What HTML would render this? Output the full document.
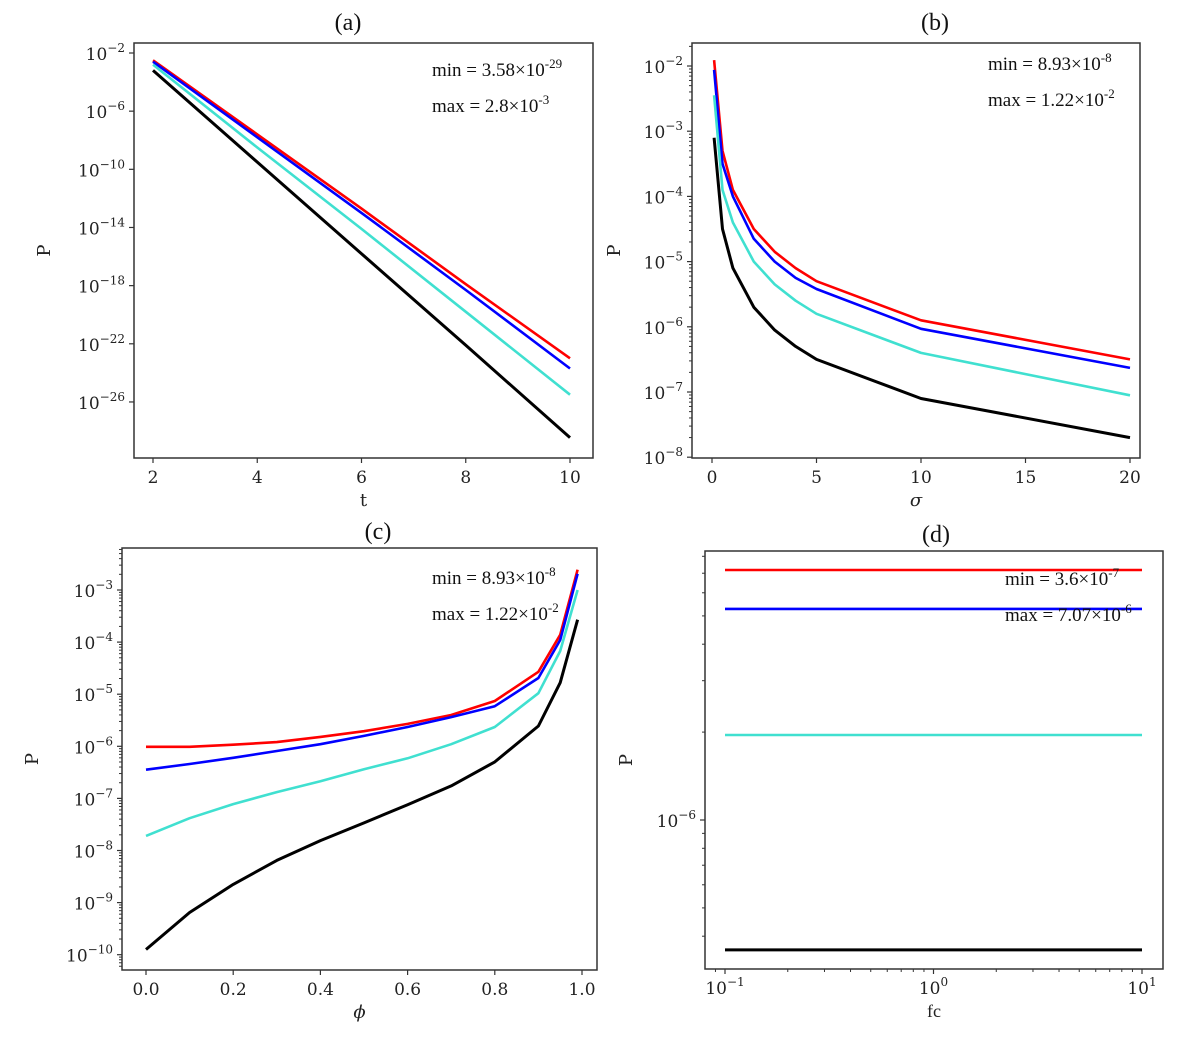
<!DOCTYPE html>
<html><head><meta charset="utf-8"><style>
body{margin:0;background:#fff;}
svg text{font-family:"DejaVu Serif","Liberation Serif",serif;}
.serif{font-family:"Liberation Serif",serif !important;}
</style></head><body>
<svg id="fig" width="1200" height="1046" viewBox="0 0 1200 1046" xmlns="http://www.w3.org/2000/svg"></svg>
<script>
// ---- Panel (a) data: log10(P) vs t ----
const aT = [2,4,6,8,10];
const aRed = [-2.5,-7.6,-12.7,-17.9,-23.0];
const aBlue = [-2.6,-7.8,-13.0,-18.3,-23.7];
const aCyan = [-2.8,-8.5,-14.1,-19.8,-25.5];
const aBlack = [-3.2,-9.5,-15.8,-22.1,-28.45];
const aXTicks = [2,4,6,8,10];
const aYTicks = [-2,-6,-10,-14,-18,-22,-26];
// ---- Panel (b) data: log10(P) vs sigma ----
const bS = [0.1,0.5,1,2,3,4,5,10,20];
const bRed = [-1.91,-3.3,-3.9,-4.5,-4.85,-5.1,-5.3,-5.9,-6.5];
const bBlue = [-2.06,-3.5,-4.0,-4.65,-5.0,-5.25,-5.42,-6.03,-6.63];
const bCyan = [-2.45,-3.9,-4.4,-5.0,-5.35,-5.6,-5.8,-6.4,-7.05];
const bBlack = [-3.1,-4.5,-5.1,-5.7,-6.05,-6.3,-6.5,-7.1,-7.7];
const bXTicks = [0,5,10,15,20];
const bYTicks = [-2,-3,-4,-5,-6,-7,-8];
// ---- Panel (c) data: log10(P) vs phi ----
const cPhi = [0,0.1,0.2,0.3,0.4,0.5,0.6,0.7,0.8,0.9,0.95,0.99];
const cRed = [-6.01,-6.01,-5.97,-5.92,-5.82,-5.71,-5.57,-5.40,-5.13,-4.57,-3.86,-2.61];
const cBlue = [-6.45,-6.34,-6.22,-6.09,-5.96,-5.80,-5.63,-5.44,-5.23,-4.69,-3.96,-2.69];
const cCyan = [-7.72,-7.38,-7.11,-6.88,-6.67,-6.44,-6.23,-5.96,-5.63,-4.98,-4.17,-3.0];
const cBlack = [-9.9,-9.19,-8.65,-8.19,-7.81,-7.47,-7.12,-6.76,-6.30,-5.61,-4.78,-3.57];
const cXTicks = [0,0.2,0.4,0.6,0.8,1.0];
const cYTicks = [-3,-4,-5,-6,-7,-8,-9,-10];
// ---- Panel (d) data: log10(P) vs log10(fc) ----
const dFc = [-1,1];
const dRed = [-5.144,-5.144];
const dBlue = [-5.277,-5.277];
const dCyan = [-5.709,-5.709];
const dBlack = [-6.445,-6.445];
const dXTicks = [-1,0,1];

const NS="http://www.w3.org/2000/svg";
const svg=document.getElementById('fig');
function mk(tag,attrs,parent){const e=document.createElementNS(NS,tag);for(const k in attrs)e.setAttribute(k,attrs[k]);(parent||svg).appendChild(e);return e;}
function powHTML(n){return '10<tspan dy="-8" font-size="12">'+String(n).replace('-','\u2212')+'</tspan>';}

function panel(id,L,R,T,B,xs,ys,xTicks,xLab,yTicks,series,opts){
  const g=mk('g',{});
  
  
  const X=v=>xs[0]+(v-xs[1])*xs[2];
  const Y=v=>ys[0]-(v-ys[1])*ys[2];
  const cols=['#ff0000','#0000ff','#40e0d0','#000000'];
  const names=['red','blue','cyan','black'];
  series.forEach((s,i)=>{
    const p=mk('polyline',{points:s.x.map((x,j)=>X(x).toFixed(1)+','+Y(s.y[j]).toFixed(1)).join(' '),fill:'none',stroke:cols[i],'stroke-width':i==3?3:2.6,'stroke-linejoin':'round'},g);
    
    
  });
  const fr=mk('rect',{x:L,y:T,width:R-L,height:B-T,fill:'none',stroke:'#333','stroke-width':1.5},g);
  
  
  xTicks.forEach((v,i)=>{
    const x=X(v);
    mk('line',{x1:x,x2:x,y1:B,y2:B+5,stroke:'#333','stroke-width':1.2},g);
    const t=mk('text',{x:x,y:B+25,'text-anchor':'middle','font-size':17,fill:'#222'},g);
    if(opts.logX)t.innerHTML=powHTML(xLab[i]);else t.textContent=xLab[i];
    
    
  });
  yTicks.forEach(v=>{
    const y=Y(v);
    mk('line',{x1:L-5,x2:L,y1:y,y2:y,stroke:'#333','stroke-width':1.2},g);
    const t=mk('text',{x:L-9,y:y+7,'text-anchor':'end','font-size':17,fill:'#222'},g);
    t.innerHTML=powHTML(v);
    
    
  });
  if(opts.minorY){
    const lo=Math.floor(Math.min(ys[1],...yTicks))-1, hi=Math.ceil(Math.max(...yTicks))+1;
    for(let d=lo;d<=hi;d++)for(let m=2;m<=9;m++){
      const y=Y(d+Math.log10(m));
      if(y>T&&y<B)mk('line',{x1:L-3,x2:L,y1:y,y2:y,stroke:'#333','stroke-width':1},g);
    }
  }
  if(opts.logX){
    for(let d=-2;d<=1;d++)for(let m=2;m<=9;m++){
      const x=X(d+Math.log10(m));
      if(x>L&&x<R)mk('line',{x1:x,x2:x,y1:B,y2:B+3,stroke:'#333','stroke-width':1},g);
    }
  }
  const xl=mk('text',{x:(L+R)/2,y:B+48,'text-anchor':'middle','font-size':18,fill:'#222',class:opts.xcls||''},g);
  xl.textContent=opts.xlabel; if(opts.italic)xl.setAttribute('font-style','italic');
  
  
  const yl=mk('text',{x:opts.px,y:(T+B)/2,'text-anchor':'middle','font-size':18,fill:'#222',transform:`rotate(-90 ${opts.px} ${(T+B)/2})`},g);
  yl.textContent='P';
  
  
  const tt=mk('text',{x:opts.tx,y:opts.ty,'text-anchor':'middle','font-size':24,fill:'#111',class:'serif'},g);
  tt.textContent='('+id+')';
  
  
  opts.ann.forEach((a,i)=>{
    const t=mk('text',{x:opts.ax,y:opts.ay+i*36,'font-size':19,fill:'#111',class:'serif'},g);
    t.innerHTML=a[0]+'<tspan dy="-8" font-size="13">'+a[1]+'</tspan>';
    
    
  });
}
// (a)
panel('a',134,593,43,458,[153,2,(570-153)/8],[53,-2,14.54],aXTicks,aXTicks.map(String),aYTicks,
 [{x:aT,y:aRed},{x:aT,y:aBlue},{x:aT,y:aCyan},{x:aT,y:aBlack}],
 {xlabel:'t',px:50,tx:348,ty:30,ax:432,ay:76,ann:[['min = 3.58×10','-29'],['max = 2.8×10','-3']]});
// (b)
panel('b',692,1140,43,458,[712,0,(1130-712)/20],[66,-2,65.2],bXTicks,bXTicks.map(String),bYTicks,
 [{x:bS,y:bRed},{x:bS,y:bBlue},{x:bS,y:bCyan},{x:bS,y:bBlack}],
 {xlabel:'σ',italic:true,minorY:true,px:620,tx:935,ty:30,ax:988,ay:70,ann:[['min = 8.93×10','-8'],['max = 1.22×10','-2']]});
// (c)
panel('c',122,597,548,970,[146,0,436],[590,-3,52.1],cXTicks,cXTicks.map(v=>v.toFixed(1)),cYTicks,
 [{x:cPhi,y:cRed},{x:cPhi,y:cBlue},{x:cPhi,y:cCyan},{x:cPhi,y:cBlack}],
 {xlabel:'ϕ',italic:true,minorY:true,px:38,tx:378,ty:539,ax:432,ay:584,ann:[['min = 8.93×10','-8'],['max = 1.22×10','-2']]});
// (d)
panel('d',705,1163,551,969,[725,-1,(1142-725)/2],[820,-6,292],dXTicks,dXTicks,[-6],
 [{x:dFc,y:dRed},{x:dFc,y:dBlue},{x:dFc,y:dCyan},{x:dFc,y:dBlack}],
 {xlabel:'fc',xcls:'serif',minorY:true,logX:true,px:632,tx:936,ty:542,ax:1005,ay:585,ann:[['min = 3.6×10','-7'],['max = 7.07×10','-6']]});
</script>
</body></html>
